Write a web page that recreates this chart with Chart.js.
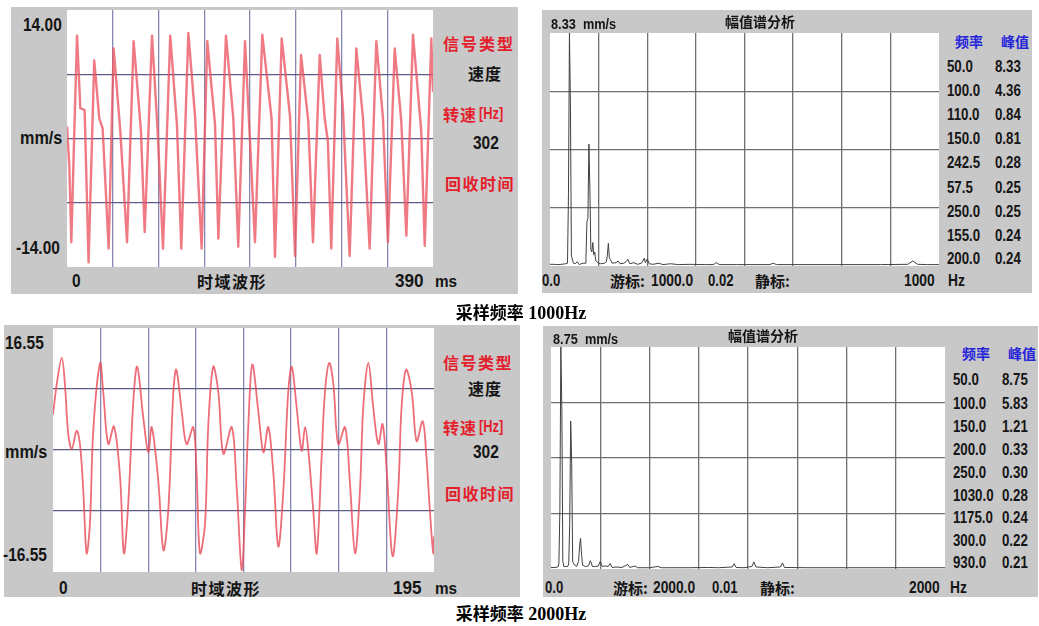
<!DOCTYPE html>
<html><head><meta charset="utf-8">
<script src="https://cdn.jsdelivr.net/npm/chart.js@4.4.1/dist/chart.umd.min.js"></script>
<style>
body{margin:0;background:#fff;width:1039px;height:626px;position:relative;overflow:hidden;font-family:"Liberation Sans",Arial,sans-serif;}
.panel{position:absolute;background:#c8c8c8;}
canvas.plot{position:absolute;background:#fff;}
.t{position:absolute;white-space:pre;font-weight:bold;line-height:20px;color:#151515;transform-origin:0 50%;}
.cn{font-family:"Noto Sans CJK SC",sans-serif;}
.red{color:#e3202c;}
.blue{color:#2424d8;}
.cap{position:absolute;white-space:nowrap;font-weight:bold;font-size:17px;line-height:20px;transform:translate(-50%,-50%);color:#000;}
.cap .cn{font-family:"Noto Sans CJK SC",sans-serif;}
.cap .lat{font-family:"Liberation Serif",serif;font-size:18px;}
</style>
</head><body>
<div class="panel" style="left:11px;top:7px;width:507px;height:287px"></div>
<div class="panel" style="left:542px;top:10px;width:490px;height:283px"></div>
<div class="panel" style="left:4px;top:325px;width:516px;height:272px"></div>
<div class="panel" style="left:543px;top:326px;width:495px;height:271px"></div>
<canvas class="plot" id="w1" width="366" height="257" style="left:67px;top:10px"></canvas>
<canvas class="plot" id="s1" width="389" height="233" style="left:550px;top:33px"></canvas>
<canvas class="plot" id="w2" width="381" height="244" style="left:53px;top:328px"></canvas>
<canvas class="plot" id="s2" width="394" height="222" style="left:551px;top:347px"></canvas>
<div id="labels"></div>
<script>
// ---- Data ----
// Time waveform, sampling 1000 Hz (ms, mm/s)
const wave1Time = [0,2.5,4.6,7.5,10.7,14.2,18.8,23,29,34.4,38,44.4,49.7,56.8,64,71,78.8,82.8,90.6,96.6,102.3,110,117.2,121.8,129.3,136.4,143.5,149.5,157.7,161.3,169.4,177.2,182.5,189.7,195,200.3,208.1,218,221.6,228.8,237.6,243,249.4,257.1,262.1,269.3,274.6,278,281.6,288,294,301.2,308.3,315.4,322.5,329.6,336.7,342,349.2,356.2,361.6,368.7,377.5,381.2,388.2,390];
const wave1Value = [1.3,-3.0,-11.3,-0.3,11.2,3.3,3.1,-13.5,8.5,2.2,1.1,-12,9.8,0.8,-11.3,10.6,0.8,-10.2,11.2,0.8,-12,11.2,1.4,-12,11.5,2.5,-12,10.6,1.6,-10.9,11.2,2.2,-11.8,10.6,-0.3,-11.3,11.3,2.2,-12.9,10.9,2.5,-12.8,9.1,1.9,-11.3,9.1,2.2,-0.3,-12,10.9,3.3,-12.8,9.8,2.2,-12,10.6,2.2,-11.3,9.8,1.9,-10.6,11.3,0.8,-11.7,10.9,5.1];
// Time waveform, sampling 2000 Hz
const wave2Time = [0,1.9,4.5,6.1,7.8,9.6,12.1,13.8,15.5,17.2,18.9,20.6,24.1,25.7,28.3,31.2,34.3,36.3,38.5,41.1,43.1,46.2,48.8,50.5,53.9,56.5,59,61.6,63.1,65.9,68.4,71.8,73.5,75.2,77.8,79.5,82,84.6,87.2,91.5,94,96.6,98.3,100,102,105.1,107.7,110.2,112.8,115.3,117.9,120.4,122.2,124.7,127.3,129,130.7,133.2,135,137.5,139.2,141.4,143.5,146,149.5,152,154.6,157.1,158.8,161.4,163.9,166.5,168.7,170.8,173.8,176.7,178.4,180.7,183.6,186.1,189.2,190.9,192.9,194.6,195];
const wave2Value = [4.8,8.9,12.5,8.9,2.2,0.1,2.6,0.8,-5.5,-14,-10,2.6,11.8,7.9,0.8,3.2,-3.6,-14,-7.3,6.6,11.3,4.4,-0.3,3.1,-4.2,-13.6,-8.2,7.9,10.9,5.2,0.8,3.1,-3.2,-14,-10,3.5,11.3,7.9,-0.5,3.1,-5,-16.3,-8.2,3.5,11.6,5.2,-0.3,3.1,-3.2,-13.1,-5.5,7.9,11.3,5.8,-0.1,3.1,-0.1,-8.2,-14,-0.9,7.9,11.8,8.9,0.8,3.1,-4.6,-14,-5.5,5.8,11.8,5.8,0.8,3.5,-2.8,-14.4,-5.5,5.8,10.9,7.9,1.2,3.9,-0.1,-8.2,-14,-11.7];
// Amplitude spectrum, 1000 Hz sampling (Hz, mm/s)
const spec1Freq = [0,10,20,30,40,45,47.5,50,52.5,55,57.5,60,65,70,75,80,85,90,92.5,95,97.5,100,102.5,105,107.5,110,112.5,115,117.5,120,125,130,140,145,147.5,150,152.5,155,160,170,175,180,190,195,200,205,215,225,235,242.5,245,250,255,265,280,290,310,330,360,400,420,428,435,480,540,565,574,582,650,750,850,920,932.5,945,970,1000];
const spec1Amp = [0.06,0.06,0.05,0.06,0.08,0.1,2.6,8.33,5.8,0.35,0.25,0.1,0.08,0.15,0.05,0.08,0.1,0.1,0.3,1.6,1.7,4.36,2.8,0.6,0.5,0.84,0.4,0.5,0.2,0.15,0.1,0.08,0.1,0.15,0.4,0.81,0.3,0.24,0.1,0.12,0.18,0.08,0.1,0.15,0.24,0.08,0.12,0.06,0.1,0.28,0.12,0.25,0.08,0.06,0.1,0.05,0.08,0.05,0.06,0.05,0.05,0.12,0.05,0.05,0.05,0.05,0.1,0.05,0.05,0.05,0.05,0.06,0.18,0.06,0.05,0.05];
// Amplitude spectrum, 2000 Hz sampling
const spec2Freq = [0,20,35,40,45,50,55,60,65,75,85,90,95,100,105,110,120,130,140,145,150,155,160,175,190,200,210,225,240,250,260,275,290,300,310,330,360,390,400,426,440,500,543,560,600,700,800,850,920,930,940,980,1020,1030,1040,1100,1165,1175,1185,1300,1500,1700,2000];
const spec2Amp = [0.06,0.06,0.08,0.2,2.3,8.75,6.4,0.3,0.1,0.1,0.1,0.2,1.8,5.83,4.2,0.3,0.15,0.1,0.3,0.9,1.21,0.6,0.15,0.1,0.12,0.33,0.1,0.1,0.12,0.3,0.1,0.12,0.1,0.22,0.06,0.08,0.06,0.18,0.06,0.12,0.05,0.05,0.1,0.05,0.05,0.05,0.06,0.05,0.08,0.21,0.06,0.05,0.1,0.28,0.08,0.05,0.08,0.24,0.06,0.05,0.05,0.05,0.05];
// Peak tables
const peaks1Freq = ["50.0","100.0","110.0","150.0","242.5","57.5","250.0","155.0","200.0"];
const peaks1Val  = ["8.33","4.36","0.84","0.81","0.28","0.25","0.25","0.24","0.24"];
const peaks2Freq = ["50.0","100.0","150.0","200.0","250.0","1030.0","1175.0","300.0","930.0"];
const peaks2Val  = ["8.75","5.83","1.21","0.33","0.30","0.28","0.24","0.22","0.21"];

// ---- Charts ----
function pts(xs, ys){ return xs.map((x,i)=>({x:x, y:ys[i]})); }
function makeChart(id, xs, ys, xmin, xmax, ymax, ymin, lineColor, lineWidth, gx, gy, smooth){
  const edgeHide = (c, n) => (ctx => (ctx.index===0 || ctx.index===n) ? 'rgba(0,0,0,0)' : c);
  new Chart(document.getElementById(id), {
    type:'line',
    data:{datasets:[{data:pts(xs,ys), borderColor:lineColor, borderWidth:lineWidth, pointRadius:0,
      tension: smooth ? 0.35 : 0, fill:false, borderJoinStyle:'round'}]},
    options:{
      responsive:false, animation:false, devicePixelRatio:1,
      layout:{padding:0},
      plugins:{legend:{display:false}, tooltip:{enabled:false}},
      scales:{
        x:{type:'linear', min:xmin, max:xmax, ticks:{display:false, count:9}, grid:{color:edgeHide(gx,8), drawTicks:false, lineWidth:1.3}, border:{display:false}},
        y:{type:'linear', min:ymin, max:ymax, ticks:{display:false, count:5}, grid:{color:edgeHide(gy,4), drawTicks:false, lineWidth:1.3}, border:{display:false}}
      }
    }
  });
}
makeChart('w1', wave1Time, wave1Value, 0, 390, 14, -14, 'rgba(236,84,98,0.78)', 2.4, '#8686b2', '#5c5c84', false);
makeChart('w2', wave2Time, wave2Value, 0, 195, 16.55, -16.55, 'rgba(232,72,88,0.8)', 1.8, '#8686b2', '#5c5c84', true);
makeChart('s1', spec1Freq, spec1Amp, 0, 1000, 8.33, 0, '#404040', 1, '#707070', '#707070', false);
makeChart('s2', spec2Freq, spec2Amp, 0, 2000, 8.75, 0, '#404040', 1, '#707070', '#707070', false);

// ---- Text ----
const L = document.getElementById('labels');
function T(text, x, y, size, cls, extra, sx){
  const d = document.createElement('div');
  d.className = 't ' + (cls||'');
  d.textContent = text;
  d.style.left = x + 'px'; d.style.top = (y - 10) + 'px'; d.style.fontSize = size + 'px';
  const isCn = (cls||'').indexOf('cn') >= 0;
  const k = sx !== undefined ? sx : (isCn ? 1 : 0.86);
  d.style.transform = 'scaleX(' + k + ')';
  if (extra) Object.assign(d.style, extra);
  L.appendChild(d);
}
// top-left waveform panel
T('14.00', 23, 25, 18);
T('mm/s', 20, 138, 18, '', null, 0.9);
T('-14.00', 16, 248, 18);
T('0', 72, 281, 18);
T('时域波形', 197, 281, 16, 'cn', {letterSpacing:'1.5px'});
T('390', 395, 281, 18, '', null, 0.95);
T('ms', 435, 282, 17, '', null, 0.9);
T('信号类型', 443, 43, 16, 'cn red', {letterSpacing:'2px'});
T('速度', 468, 73, 16, 'cn', {letterSpacing:'1px'});
T('转速', 443, 114, 16, 'cn red', {letterSpacing:'1px'});
T('[Hz]', 479, 114, 16, 'red', null, 0.8);
T('302', 473, 143, 18);
T('回收时间', 445, 183, 16, 'cn red', {letterSpacing:'1.5px'});
// bottom-left waveform panel
T('16.55', 5, 343, 18);
T('mm/s', 5, 452, 18, '', null, 0.9);
T('-16.55', 3, 555, 18);
T('0', 59, 588, 18);
T('时域波形', 191, 588, 16, 'cn', {letterSpacing:'1.5px'});
T('195', 393, 588, 18, '', null, 0.95);
T('ms', 435, 589, 17, '', null, 0.9);
T('信号类型', 443, 362, 16, 'cn red', {letterSpacing:'1.5px'});
T('速度', 468, 388, 16, 'cn', {letterSpacing:'1px'});
T('转速', 443, 427, 16, 'cn red', {letterSpacing:'1px'});
T('[Hz]', 479, 427, 16, 'red', null, 0.8);
T('302', 473, 452, 18);
T('回收时间', 445, 493, 16, 'cn red', {letterSpacing:'1.5px'});
// top-right spectrum panel
T('8.33  mm/s', 551, 24, 15, '', null, 0.85);
T('幅值谱分析', 725, 21, 14, 'cn');
T('频率', 955, 41, 14, 'cn blue');
T('峰值', 1001, 41, 14, 'cn blue');
const rows1 = [67,91,115,139,163,188,212,236,259];
peaks1Freq.forEach((f,i)=>{ T(f, 947, rows1[i], 17, '', null, 0.78); T(peaks1Val[i], 995, rows1[i], 17, '', null, 0.78); });
T('0.0', 542, 281, 16, '', null, 0.82);
T('游标:', 610, 281, 15, 'cn');
T('1000.0', 651, 281, 16, '', null, 0.86);
T('0.02', 708, 281, 16, '', null, 0.82);
T('静标:', 755, 281, 15, 'cn');
T('1000', 904, 281, 16, '', null, 0.86);
T('Hz', 948, 281, 16, '', null, 0.86);
// bottom-right spectrum panel
T('8.75  mm/s', 553, 339, 15, '', null, 0.85);
T('幅值谱分析', 728, 335, 14, 'cn');
T('频率', 962, 353, 14, 'cn blue');
T('峰值', 1008, 353, 14, 'cn blue');
const rows2 = [380,404,427,450,473,496,518,541,563];
peaks2Freq.forEach((f,i)=>{ T(f, 953, rows2[i], 17, '', null, 0.78); T(peaks2Val[i], 1002, rows2[i], 17, '', null, 0.78); });
T('0.0', 545, 588, 16, '', null, 0.82);
T('游标:', 613, 588, 15, 'cn');
T('2000.0', 653, 588, 16, '', null, 0.86);
T('0.01', 712, 588, 16, '', null, 0.82);
T('静标:', 760, 588, 15, 'cn');
T('2000', 909, 588, 16, '', null, 0.86);
T('Hz', 950, 588, 16, '', null, 0.86);
</script>
<div class="cap" style="left:521px;top:313px"><span class="cn">采样频率</span> <span class="lat">1000Hz</span></div>
<div class="cap" style="left:521px;top:614px"><span class="cn">采样频率</span> <span class="lat">2000Hz</span></div>
</body></html>
